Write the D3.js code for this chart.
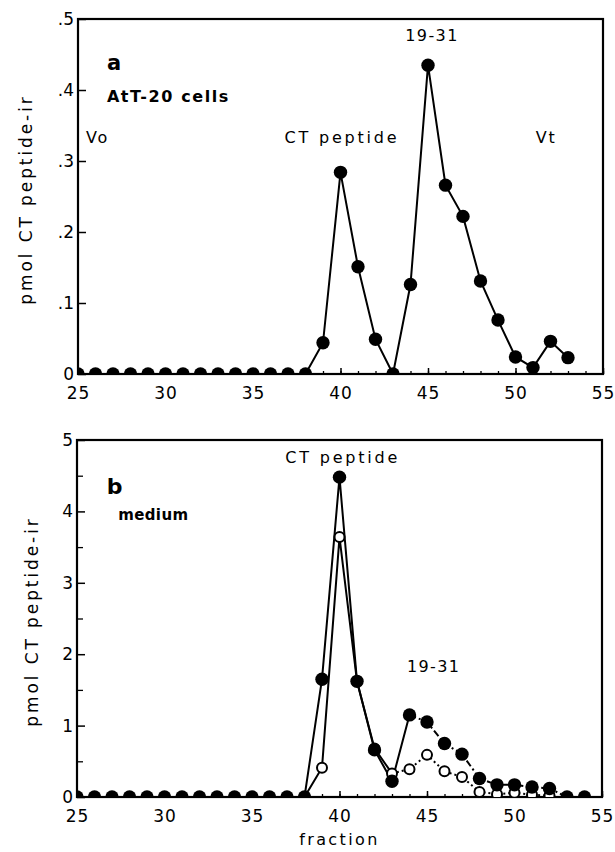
<!DOCTYPE html>
<html>
<head>
<meta charset="utf-8">
<script src="https://cdn.jsdelivr.net/npm/d3@7"></script>
<style>
  body { margin: 0; background: #fff; }
  svg { display: block; }
  text { font-family: "DejaVu Sans", sans-serif; fill: #000; }
</style>
</head>
<body>
<div id="chart"></div>
<script>
// DATA
const fractionsA = [25, 26, 27, 28, 29, 30, 31, 32, 33, 34, 35, 36, 37, 38, 39, 40, 41, 42, 43, 44, 45, 46, 47, 48, 49, 50, 51, 52, 53];
const cellsA = [0, 0, 0, 0, 0, 0, 0, 0, 0, 0, 0, 0, 0, 0, 0.044, 0.284, 0.151, 0.049, 0, 0.126, 0.435, 0.266, 0.222, 0.131, 0.076, 0.024, 0.009, 0.046, 0.023];

const fractionsB = [25, 26, 27, 28, 29, 30, 31, 32, 33, 34, 35, 36, 37, 38, 39, 40, 41, 42, 43, 44, 45, 46, 47, 48, 49, 50, 51, 52, 53, 54];
const mediumFilled = [0, 0, 0, 0, 0, 0, 0, 0, 0, 0, 0, 0, 0, 0, 1.65, 4.48, 1.62, 0.66, 0.22, 1.15, 1.05, 0.75, 0.60, 0.26, 0.17, 0.17, 0.14, 0.12, 0, 0];

const fractionsOpen = [38, 39, 40, 41, 42, 43, 44, 45, 46, 47, 48, 49, 50, 51, 52];
const mediumOpen = [0, 0.41, 3.64, 1.62, 0.68, 0.33, 0.39, 0.59, 0.36, 0.28, 0.07, 0.04, 0.06, 0.03, 0.02];

const xTicks = [25, 30, 35, 40, 45, 50, 55];
const yTicksA = [0, 0.1, 0.2, 0.3, 0.4, 0.5];
const yTicksB = [0, 1, 2, 3, 4, 5];

const toPoints = (xs, ys) => xs.map((f, i) => ({ f: f, v: ys[i] }));
const ptsA = toPoints(fractionsA, cellsA);
const ptsFilled = toPoints(fractionsB, mediumFilled);
const ptsOpen = toPoints(fractionsOpen, mediumOpen);

const svg = d3.select("#chart").append("svg")
  .attr("width", 615)
  .attr("height", 852);

// draws frame, ticks and labels; returns scales + clipped group
function panel(id, box, yMax, yTicks, yMinor, yFmt, yLabelX) {
  const x = d3.scaleLinear().domain([25, 55]).range([box.left, box.right]);
  const y = d3.scaleLinear().domain([0, yMax]).range([box.bottom, box.top]);

  svg.append("clipPath").attr("id", id)
    .append("rect")
      .attr("x", box.left).attr("y", box.top)
      .attr("width", box.right - box.left).attr("height", box.bottom - box.top);

  // x minor ticks
  const xAx = svg.append("g")
    .attr("transform", `translate(0,${box.bottom})`)
    .call(d3.axisBottom(x).tickValues(d3.range(25, 56)).tickSizeInner(-3).tickSizeOuter(0).tickFormat(""));
  xAx.select(".domain").remove();
  xAx.selectAll("line").attr("stroke-width", 1.3);

  const xMaj = svg.append("g")
    .attr("transform", `translate(0,${box.bottom})`)
    .call(d3.axisBottom(x).tickValues(xTicks).tickSizeInner(-6).tickSizeOuter(0).tickPadding(0));
  xMaj.select(".domain").remove();
  xMaj.selectAll("line").attr("stroke-width", 1.5);
  xMaj.selectAll("text")
    .attr("y", 25).attr("dy", null)
    .style("font-size", "17px")
    .style("letter-spacing", "1px");

  // y ticks
  if (yMinor) {
    const yMin = svg.append("g")
      .attr("transform", `translate(${box.left},0)`)
      .call(d3.axisLeft(y).tickValues(yMinor).tickSizeInner(-6).tickSizeOuter(0).tickFormat(""));
    yMin.select(".domain").remove();
    yMin.selectAll("line").attr("stroke-width", 1.3);
  }
  const yAx = svg.append("g")
    .attr("transform", `translate(${box.left},0)`)
    .call(d3.axisLeft(y).tickValues(yTicks).tickSizeInner(-8).tickSizeOuter(0).tickPadding(4).tickFormat(yFmt));
  yAx.select(".domain").remove();
  yAx.selectAll("line").attr("stroke-width", 1.5);
  yAx.selectAll("text")
    .attr("x", -4)
    .style("font-size", "17px");

  svg.append("rect")
    .attr("x", box.left).attr("y", box.top)
    .attr("width", box.right - box.left).attr("height", box.bottom - box.top)
    .attr("fill", "none")
    .attr("stroke", "#000")
    .attr("stroke-width", 2.2);

  svg.append("text")
    .attr("transform", `translate(${yLabelX},${(box.top + box.bottom) / 2 + 3}) rotate(-90)`)
    .attr("text-anchor", "middle")
    .style("font-size", "17px")
    .style("letter-spacing", "2.9px")
    .text("pmol CT peptide-ir");

  const plot = svg.append("g").attr("clip-path", `url(#${id})`);
  return { x, y, plot };
}

function drawLine(p, data, dash) {
  const line = d3.line().x(d => p.x(d.f)).y(d => p.y(d.v));
  p.plot.append("path")
    .datum(data)
    .attr("d", line)
    .attr("fill", "none")
    .attr("stroke", "#000")
    .attr("stroke-width", 2)
    .attr("stroke-dasharray", dash);
}

function drawDots(p, data, open) {
  p.plot.selectAll(null)
    .data(data)
    .enter()
    .append("circle")
      .attr("cx", d => p.x(d.f))
      .attr("cy", d => p.y(d.v))
      .attr("r", open ? 5 : 6.7)
      .attr("fill", open ? "#fff" : "#000")
      .attr("stroke", "#000")
      .attr("stroke-width", open ? 2 : 0);
}

function label(str, px, py, size, weight, spacing) {
  svg.append("text")
    .attr("x", px).attr("y", py)
    .style("font-size", size + "px")
    .style("font-weight", weight)
    .style("letter-spacing", spacing + "px")
    .text(str);
}

// PANEL A
const fmtA = d => d === 0 ? "0" : d3.format(".1f")(d).replace("0.", ".");
const a = panel("clipA", { left: 78, right: 603, top: 19, bottom: 374 }, 0.5, yTicksA, null, fmtA, 32);
drawLine(a, ptsA, null);
drawDots(a, ptsA, false);

label("a", a.x(26.65), a.y(0.428), 21, "bold", 0);
label("AtT-20 cells", a.x(26.65), a.y(0.383), 16, "bold", 1.6);
label("Vo", a.x(25.45), a.y(0.325), 16, "normal", 2);
label("CT peptide", a.x(36.8), a.y(0.325), 16, "normal", 2.8);
label("19-31", a.x(43.7), a.y(0.469), 16, "normal", 1.4);
label("Vt", a.x(51.15), a.y(0.325), 16, "normal", 2);

// PANEL B
const b = panel("clipB", { left: 77, right: 602, top: 440, bottom: 797 }, 5, yTicksB, [0.5, 1.5, 2.5, 3.5, 4.5], d3.format("d"), 38);
const splitF = 44, splitO = 43;
drawLine(b, ptsFilled.filter(d => d.f <= splitF), null);
drawLine(b, ptsFilled.filter(d => d.f >= splitF), "7,3,2,3");
drawLine(b, ptsOpen.filter(d => d.f <= splitO), null);
drawLine(b, ptsOpen.filter(d => d.f >= splitO), "2,3");
drawDots(b, ptsOpen, true);
drawDots(b, ptsFilled, false);

label("CT peptide", b.x(36.9), b.y(4.68), 16, "normal", 2.8);
label("b", b.x(26.7), b.y(4.24), 22, "bold", 0);
label("medium", b.x(27.35), b.y(3.88), 15, "bold", 0.4);
label("19-31", b.x(43.85), b.y(1.75), 16, "normal", 1.4);

svg.append("text")
  .attr("x", b.x(40))
  .attr("y", 845)
  .attr("text-anchor", "middle")
  .style("font-size", "16px")
  .style("letter-spacing", "2.4px")
  .text("fraction");
</script>
</body>
</html>
